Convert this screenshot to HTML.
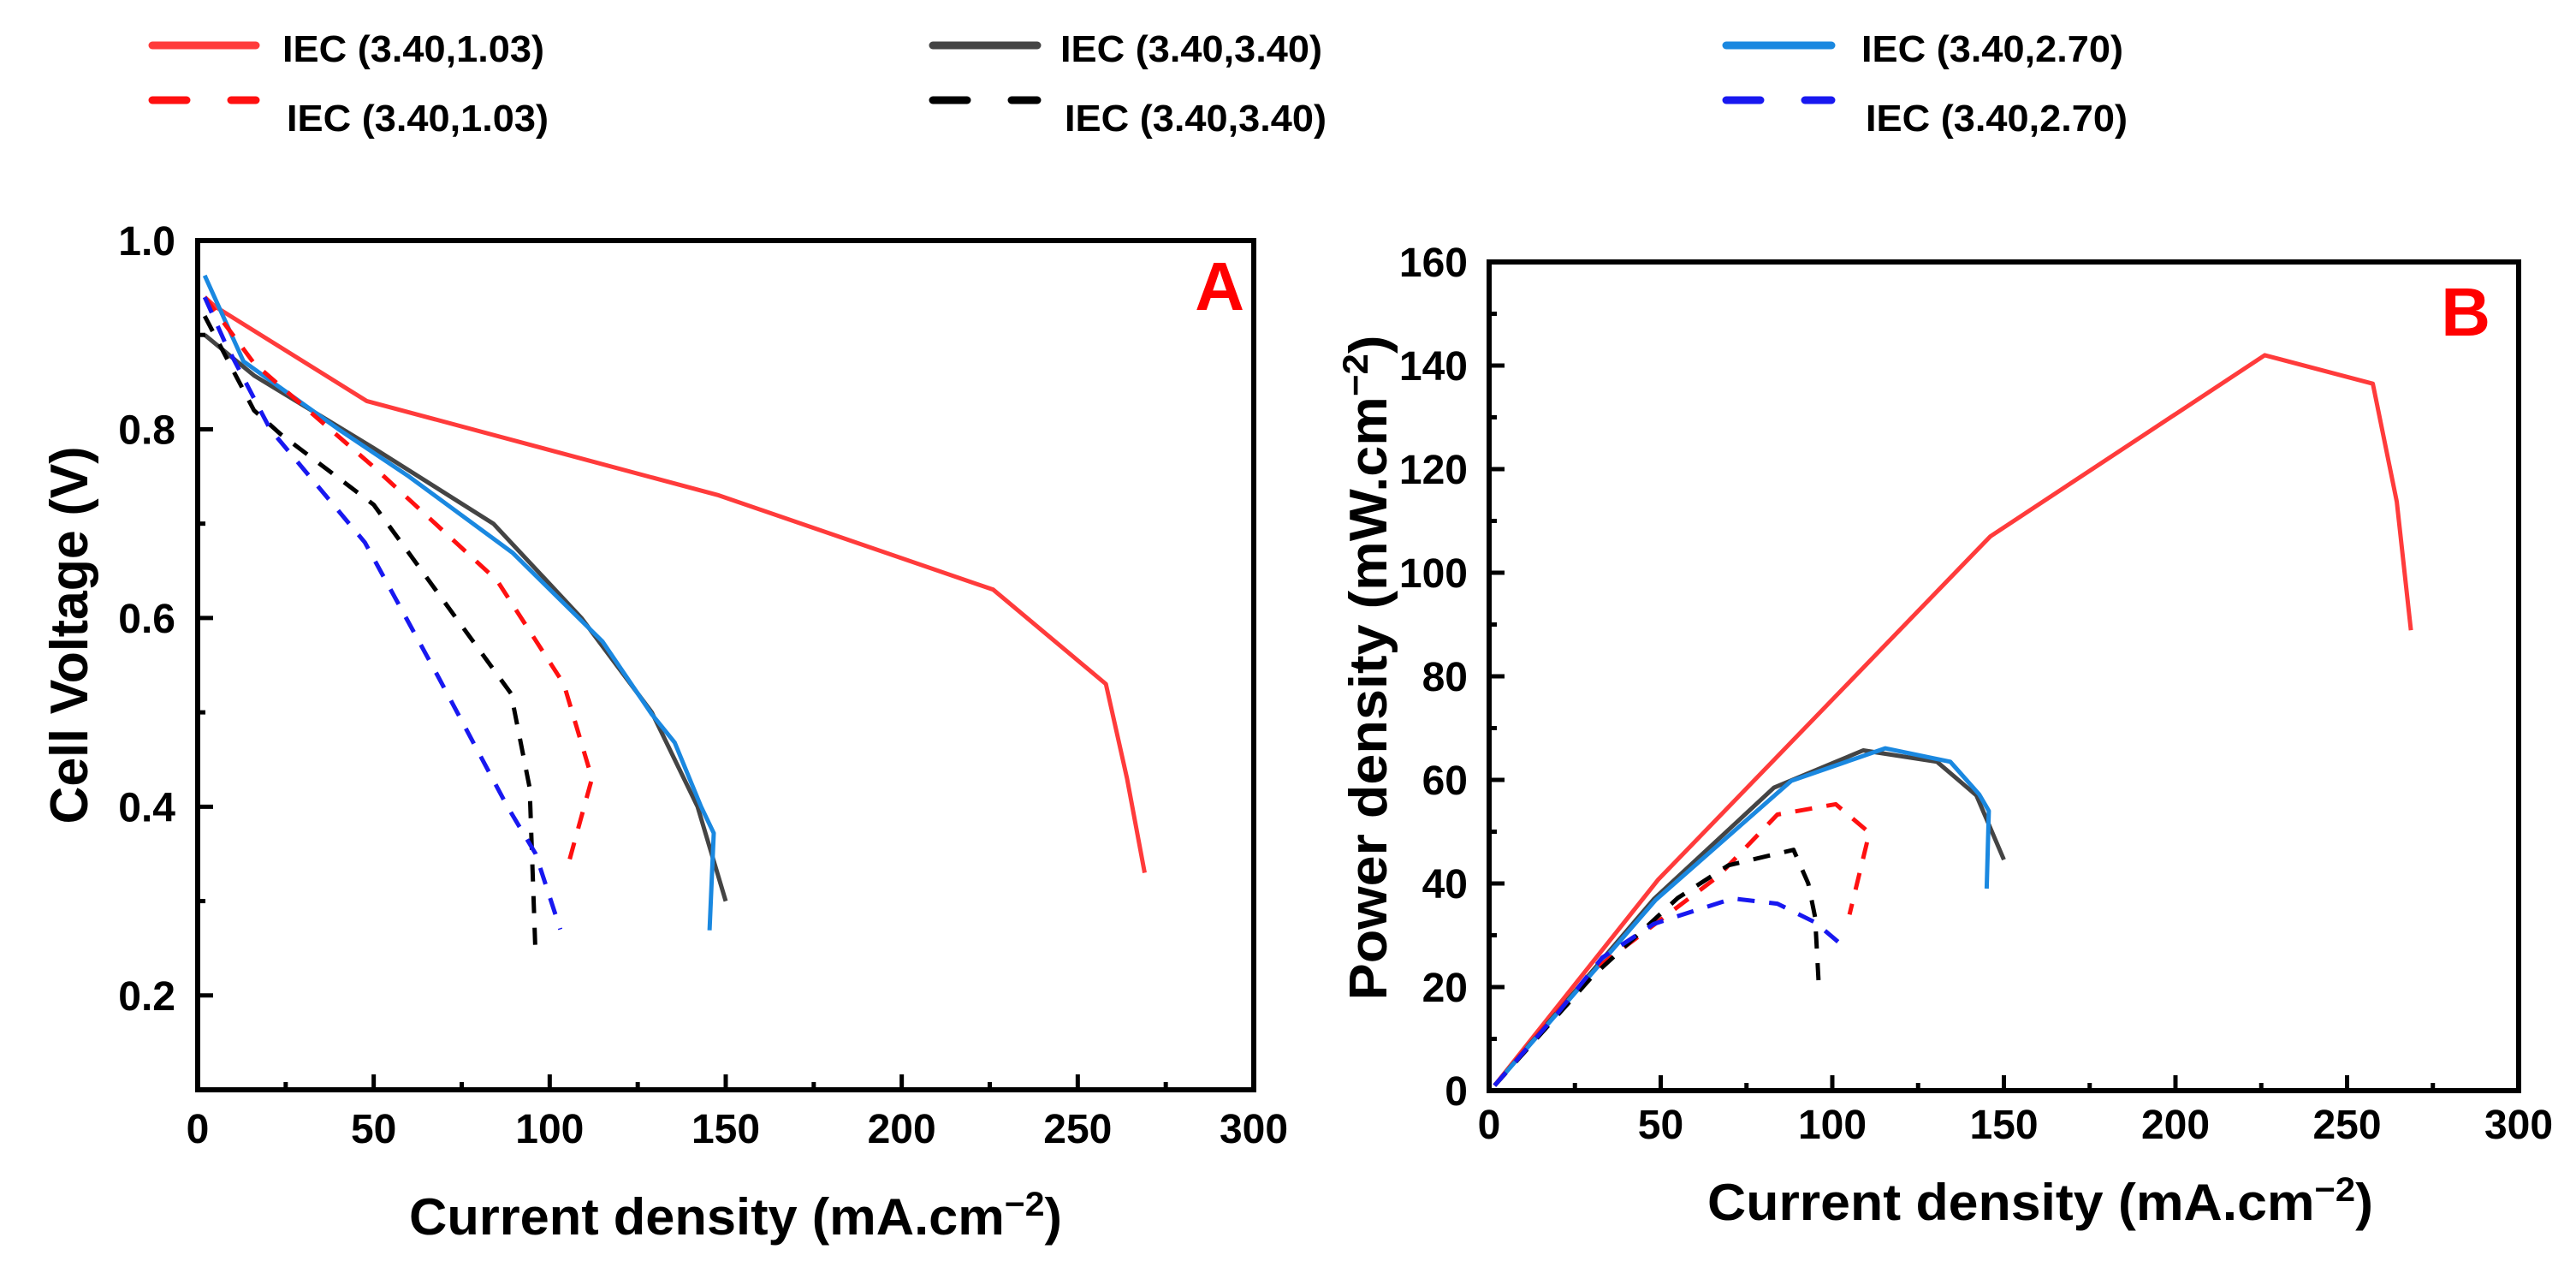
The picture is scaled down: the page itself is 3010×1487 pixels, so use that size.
<!DOCTYPE html>
<html><head><meta charset="utf-8"><style>
html,body{margin:0;padding:0;background:#fff;width:3010px;height:1487px;overflow:hidden}
svg{display:block}
text{font-family:"Liberation Sans",Arial,sans-serif;font-weight:bold;fill:#000}
</style></head><body>
<svg id="fig" width="3010" height="1487" viewBox="0 0 3010 1487">
<g id="legend"></g>
<g id="panelA"></g>
<g id="panelB"></g>
</svg>
<script>
// ---- data ----
const seriesNames = ["red-solid","black-solid","blue-solid","red-dashed","black-dashed","blue-dashed"];
const seriesColors = ["#ff3b3b","#444444","#1a88e0","#ff1010","#000000","#1818f0"];
const seriesDashed = [false,false,false,true,true,true];
const legendLabels = ["IEC (3.40,1.03)","IEC (3.40,3.40)","IEC (3.40,2.70)","IEC (3.40,1.03)","IEC (3.40,3.40)","IEC (3.40,2.70)"];

// Panel A: current density (x) vs voltage (y)
const aRedSolidX = [2,5,48,148,226,258,264,269];
const aRedSolidY = [0.94,0.93,0.83,0.73,0.63,0.53,0.43,0.33];
const aBlackSolidX = [2,16,50,84,109,129,142,150];
const aBlackSolidY = [0.90,0.857,0.78,0.70,0.60,0.50,0.40,0.30];
const aBlueSolidX = [2,13,40,60,89.5,115,129,135.5,143,146.6,145.4];
const aBlueSolidY = [0.963,0.872,0.80,0.75,0.669,0.575,0.498,0.468,0.40,0.372,0.269];
const aRedDashX = [2,16,50,85,104,112,104.6];
const aRedDashY = [0.94,0.87,0.76,0.64,0.53,0.43,0.33];
const aBlackDashX = [2,16,23.5,50,89,94.3,96];
const aBlackDashY = [0.92,0.82,0.795,0.72,0.52,0.42,0.24];
const aBlueDashX = [2,8,20.6,47.5,68,88,96,103];
const aBlueDashY = [0.94,0.89,0.80,0.68,0.54,0.40,0.35,0.27];

// Panel B: current density (x) vs power density (y)
const bRedSolidX = [1.6,49.2,146,226,257.5,264.5,268.6];
const bRedSolidY = [1,40.7,107,142,136.5,113.7,88.9];
const bBlackSolidX = [1.6,48,83,109,130.5,142,150];
const bBlackSolidY = [1,37,58.5,65.7,63.5,57,44.6];
const bBlueSolidX = [1.6,48.5,88,115.4,134.4,142.8,145.6,145];
const bBlueSolidY = [1,36.8,59.8,66.1,63.5,57.2,54,39];
const bRedDashX = [1.6,30,66.6,84,101,110.8,105];
const bRedDashY = [1,23,41.3,53.3,55.3,49.8,34];
const bBlackDashX = [1.6,30,55,69.7,88.7,93,95,96];
const bBlackDashY = [1,22,37.2,43.5,46.5,40,33.5,21];
const bBlueDashX = [1.6,20,33,48,71,84,95,103];
const bBlueDashY = [1,15,25.7,32.2,37.1,36.1,32.5,28];

const xTicks = [0,50,100,150,200,250,300];
const aYTicks = [0.2,0.4,0.6,0.8,1.0];
const aYTickLabels = ["0.2","0.4","0.6","0.8","1.0"];
const bYTicks = [0,20,40,60,80,100,120,140,160];

const NS = "http://www.w3.org/2000/svg";
function mk(tag, attrs, parent){
  const e = document.createElementNS(NS, tag);
  for (const k in attrs) e.setAttribute(k, attrs[k]);
  parent.appendChild(e); return e;
}

// ---- legend ----
const lg = document.getElementById("legend");
const legCols = [{lx1:178,lx2:299,tx:330},{lx1:1090,lx2:1212,tx:1239},{lx1:2017,lx2:2140,tx:2175}];
const legRows = [{ly:53,tb:72},{ly:117,tb:153}];
for (let i=0;i<6;i++){
  const c = legCols[i%3], r = legRows[Math.floor(i/3)];
  const dashed = seriesDashed[i];
  const ln = mk("line",{x1:c.lx1,x2:c.lx2,y1:r.ly,y2:r.ly,stroke:seriesColors[i],"stroke-width":9,"stroke-linecap":"round"},lg);
  if (dashed) ln.setAttribute("stroke-dasharray","40 52");
  
  
  const t = mk("text",{x:c.tx+(dashed?5:0),y:r.tb,"font-size":44,textLength:306,lengthAdjust:"spacingAndGlyphs"},lg);
  t.textContent = legendLabels[i];
  
  
}

function drawPanel(g, cfg){
  const {x0,x1,yTop,yBot,ymin,ymax} = cfg;
  const sx = v => x0 + (v-0)/(300-0)*(x1-x0);
  const sy = v => yBot - (v-ymin)/(ymax-ymin)*(yBot-yTop);
  // series
  const clip = mk("clipPath",{id:cfg.id+"clip"},g);
  mk("rect",{x:x0,y:yTop,width:x1-x0,height:yBot-yTop},clip);
  const sg = mk("g",{"clip-path":"url(#"+cfg.id+"clip)"},g);
  cfg.series.forEach((s,i)=>{
    const pts = s.x.map((v,j)=>sx(v).toFixed(1)+","+sy(s.y[j]).toFixed(1)).join(" ");
    const pl = mk("polyline",{points:pts,fill:"none",stroke:seriesColors[i],"stroke-width":5,"stroke-linejoin":"round"},sg);
    if (seriesDashed[i]) pl.setAttribute("stroke-dasharray","20 17");
    
    
  });
  // x ticks
  for (let v=0; v<=300; v+=25){
    const major = v%50===0;
    mk("line",{x1:sx(v),x2:sx(v),y1:yBot,y2:yBot-(major?18:9),stroke:"#000","stroke-width":5},g);
  }
  xTicks.forEach(v=>{
    const t = mk("text",{x:sx(v),y:cfg.xLabY,"font-size":48,"text-anchor":"middle"},g);
    t.textContent = String(v);
    
    
  });
  // y ticks
  const step = cfg.minorStep;
  for (let v=ymin; v<=ymax+1e-9; v+=step){
    const vv = Math.round(v*1000)/1000;
    const major = cfg.yTicks.some(t=>Math.abs(t-vv)<1e-6);
    mk("line",{x1:x0,x2:x0+(major?18:9),y1:sy(vv),y2:sy(vv),stroke:"#000","stroke-width":5},g);
  }
  cfg.yTicks.forEach((v,i)=>{
    const t = mk("text",{x:cfg.yLabX,y:sy(v)+17,"font-size":48,"text-anchor":"end"},g);
    t.textContent = cfg.yTickLabels[i];
    
    
  });
  // frame
  const fr = mk("rect",{x:x0,y:yTop,width:x1-x0,height:yBot-yTop,fill:"none",stroke:"#000","stroke-width":6},g);
  
  
  // titles
  const xt = mk("text",{x:cfg.xTitleX,y:cfg.xTitleY,"font-size":60,textLength:cfg.xTitleLen,lengthAdjust:"spacingAndGlyphs"},g);
  xt.innerHTML = 'Current density (mA.cm<tspan dy="-22" font-size="40">−2</tspan><tspan dy="22">)</tspan>';
  
  
  const yt = mk("text",{x:0,y:0,"font-size":62,"text-anchor":"middle",transform:`translate(${cfg.yTitleX},${cfg.yTitleY}) rotate(-90)`,textLength:cfg.yTitleLen,lengthAdjust:"spacingAndGlyphs"},g);
  yt.innerHTML = cfg.yTitle;
  
  
  const pl = mk("text",{x:cfg.letterX,y:cfg.letterY,"font-size":80,"text-anchor":"end",style:"fill:#ff0000"},g);
  pl.textContent = cfg.letter;
  
  
}

drawPanel(document.getElementById("panelA"),{
  id:"panel-a", x0:231,x1:1465,yTop:281,yBot:1273,ymin:0.1,ymax:1.0,minorStep:0.1,
  yTicks:aYTicks,yTickLabels:aYTickLabels,yLabX:205,xLabY:1335,
  xTitleX:478,xTitleY:1442,xTitleLen:763,
  yTitleX:102,yTitleY:742,yTitleLen:441,yTitle:"Cell Voltage (V)",
  letter:"A",letterX:1454,letterY:362,
  series:[
    {x:aRedSolidX,y:aRedSolidY},{x:aBlackSolidX,y:aBlackSolidY},{x:aBlueSolidX,y:aBlueSolidY},
    {x:aRedDashX,y:aRedDashY},{x:aBlackDashX,y:aBlackDashY},{x:aBlueDashX,y:aBlueDashY}]
});
drawPanel(document.getElementById("panelB"),{
  id:"panel-b", x0:1740,x1:2943,yTop:306,yBot:1274,ymin:0,ymax:160,minorStep:10,
  yTicks:bYTicks,yTickLabels:bYTicks.map(String),yLabX:1715,xLabY:1330,
  xTitleX:1995,xTitleY:1425,xTitleLen:778,
  yTitleX:1620,yTitleY:780,yTitleLen:777,
  yTitle:'Power density (mW.cm<tspan dy="-22" font-size="42">−2</tspan><tspan dy="22">)</tspan>',
  letter:"B",letterX:2910,letterY:392,
  series:[
    {x:bRedSolidX,y:bRedSolidY},{x:bBlackSolidX,y:bBlackSolidY},{x:bBlueSolidX,y:bBlueSolidY},
    {x:bRedDashX,y:bRedDashY},{x:bBlackDashX,y:bBlackDashY},{x:bBlueDashX,y:bBlueDashY}]
});
</script>
</body></html>
